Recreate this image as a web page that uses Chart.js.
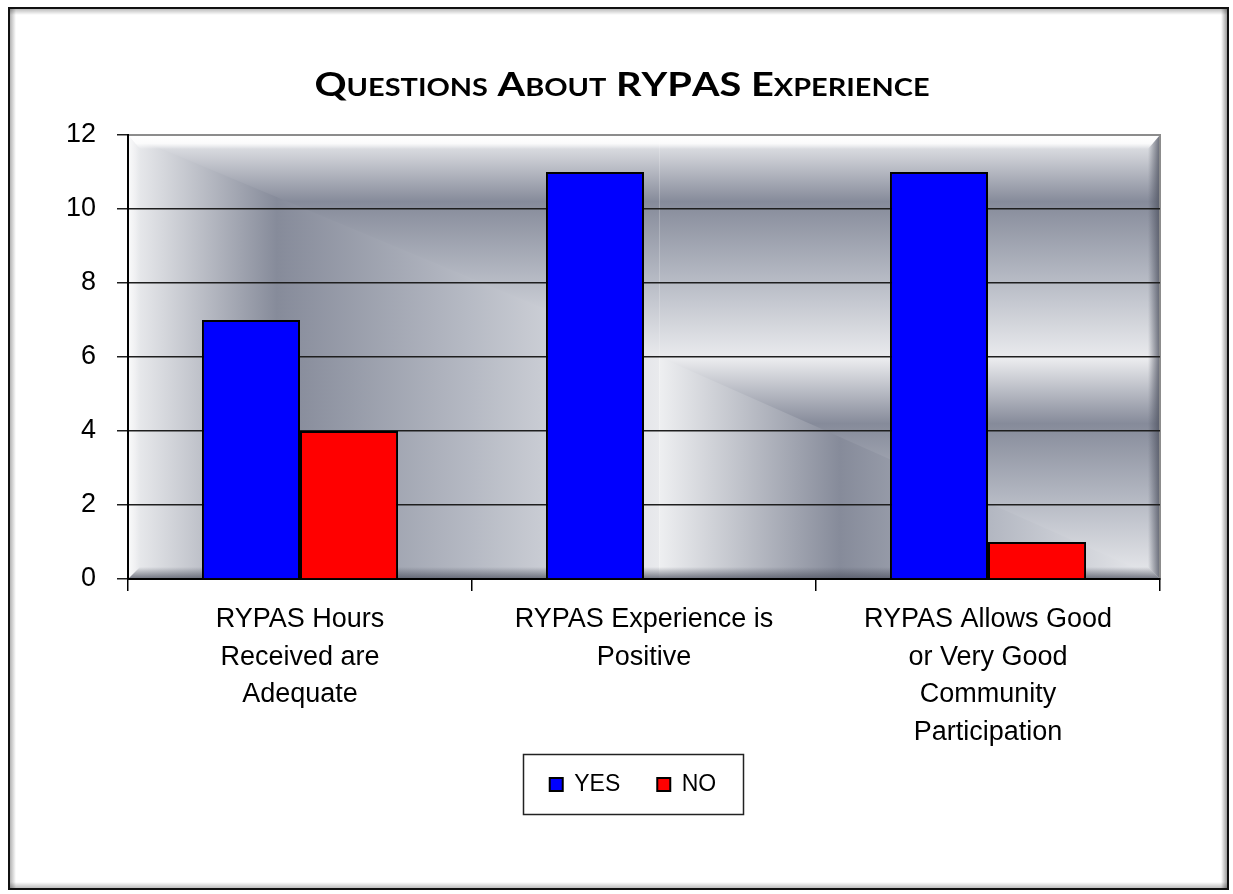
<!DOCTYPE html>
<html>
<head>
<meta charset="utf-8">
<title>Questions About RYPAS Experience</title>
<script src="https://cdn.jsdelivr.net/npm/chart.js@4.4.0/dist/chart.umd.min.js"></script>
<style>
  html, body { margin: 0; padding: 0; background: #fff; }
  #wrap { width: 1233px; height: 894px; }
</style>
</head>
<body>
<div id="wrap"><canvas id="myChart" width="1233" height="894"></canvas></div>
<script>
const titleText = 'Questions About RYPAS Experience';
const categories = [
  ['RYPAS Hours', 'Received are', 'Adequate'],
  ['RYPAS Experience is', 'Positive'],
  ['RYPAS Allows Good', 'or Very Good', 'Community', 'Participation'],
];
const seriesNames = ['YES', 'NO'];
const yesValues = [7, 11, 11];
const noValues = [4, 0, 1];
const yMin = 0;
const yMax = 12;
const yStep = 2;

const FONT = "'Liberation Sans', Arial, sans-serif";

// excel-ish metallic texture, one tile at a time
function tile(ctx, x0, y0, w, h, hStop, vStop, mode) {
  const stops = (g, d) => {
    g.addColorStop(0, '#eeeff1');
    g.addColorStop(d, '#868b9a');
    g.addColorStop((d + 1) / 2, '#b6bac4');
    g.addColorStop(1, '#e9eaed');
  };
  const gh = ctx.createLinearGradient(x0, 0, x0 + w, 0);
  stops(gh, hStop);
  const gv = ctx.createLinearGradient(0, y0, 0, y0 + h);
  stops(gv, vStop);
  if (mode === 'h' || mode === 'v') {
    ctx.fillStyle = mode === 'h' ? gh : gv;
    ctx.fillRect(x0, y0, w, h);
    return;
  }
  // whole tile horizontal, then the upper right half vertical on top
  ctx.fillStyle = gh;
  ctx.fillRect(x0, y0, w, h);
  ctx.beginPath();
  ctx.moveTo(x0, y0);
  ctx.lineTo(x0 + w, y0);
  ctx.lineTo(x0 + w, y0 + h);
  ctx.closePath();
  ctx.fillStyle = gv;
  ctx.fill();
}

function poly(ctx, pts, fill) {
  ctx.beginPath();
  ctx.moveTo(pts[0][0], pts[0][1]);
  for (let i = 1; i < pts.length; i++) ctx.lineTo(pts[i][0], pts[i][1]);
  ctx.closePath();
  ctx.fillStyle = fill;
  ctx.fill();
}

const backdrop = {
  id: 'backdrop',
  afterLayout(chart) {
    // legend sits centred under the plot, a bit higher than chart.js puts it
    const lg = chart.legend;
    lg.left += 53; lg.right += 53;
    lg.top -= 18; lg.bottom -= 18;
  },
  beforeDraw(chart) {
    const ctx = chart.ctx;
    const a = chart.chartArea;
    ctx.save();
    ctx.fillStyle = '#fff';
    ctx.fillRect(0, 0, chart.width, chart.height);

    // outer frame with a soft inner shadow
    const fx = 9, fy = 8, fw = 1219, fh = 881;
    const sh = 7;
    let g = ctx.createLinearGradient(fx, 0, fx + sh, 0);
    g.addColorStop(0, 'rgba(0,0,0,0.35)'); g.addColorStop(1, 'rgba(0,0,0,0)');
    ctx.fillStyle = g; ctx.fillRect(fx, fy, sh, fh);
    g = ctx.createLinearGradient(fx + fw, 0, fx + fw - sh, 0);
    g.addColorStop(0, 'rgba(0,0,0,0.45)'); g.addColorStop(1, 'rgba(0,0,0,0)');
    ctx.fillStyle = g; ctx.fillRect(fx + fw - sh, fy, sh, fh);
    g = ctx.createLinearGradient(0, fy, 0, fy + sh);
    g.addColorStop(0, 'rgba(0,0,0,0.3)'); g.addColorStop(1, 'rgba(0,0,0,0)');
    ctx.fillStyle = g; ctx.fillRect(fx, fy, fw, sh);
    g = ctx.createLinearGradient(0, fy + fh, 0, fy + fh - sh);
    g.addColorStop(0, 'rgba(0,0,0,0.3)'); g.addColorStop(1, 'rgba(0,0,0,0)');
    ctx.fillStyle = g; ctx.fillRect(fx, fy + fh - sh, fw, sh);
    ctx.strokeStyle = '#111';
    ctx.lineWidth = 2;
    ctx.strokeRect(fx, fy, fw, fh);

    // plot area texture
    const L = a.left, R = a.right, T = a.top, B = a.bottom;
    const midX = L + (R - L) * 0.515;
    const midY = (T + B) / 2;
    tile(ctx, L, T, midX - L, midY - T, 0.28, 0.3, 'd');
    tile(ctx, midX, T, R - midX, midY - T, 0.34, 0.3, 'v');
    tile(ctx, L, midY, midX - L, B - midY, 0.3, 0.3, 'h');
    tile(ctx, midX, midY, R - midX, B - midY, 0.36, 0.3, 'd');

    // bevel
    const bw = 12;
    g = ctx.createLinearGradient(0, T, 0, T + bw + 2);
    g.addColorStop(0, 'rgba(255,255,255,1)'); g.addColorStop(0.6, 'rgba(255,255,255,0.85)'); g.addColorStop(1, 'rgba(255,255,255,0)');
    poly(ctx, [[L, T], [R, T], [R - bw, T + bw + 2], [L + bw, T + bw + 2]], g);
    g = ctx.createLinearGradient(L, 0, L + bw, 0);
    g.addColorStop(0, 'rgba(255,255,255,0.7)'); g.addColorStop(1, 'rgba(255,255,255,0)');
    poly(ctx, [[L, T], [L + bw, T + bw + 2], [L + bw, B - bw], [L, B]], g);
    g = ctx.createLinearGradient(R - bw, 0, R, 0);
    g.addColorStop(0, 'rgba(80,84,98,0)'); g.addColorStop(1, 'rgba(80,84,98,0.85)');
    poly(ctx, [[R, T], [R, B], [R - bw, B - bw], [R - bw, T + bw + 2]], g);
    g = ctx.createLinearGradient(0, B - bw, 0, B);
    g.addColorStop(0, 'rgba(80,84,98,0)'); g.addColorStop(1, 'rgba(80,84,98,0.8)');
    poly(ctx, [[L, B], [R, B], [R - bw, B - bw], [L + bw, B - bw]], g);
    ctx.strokeStyle = '#8c8c8c';
    ctx.lineWidth = 2;
    ctx.strokeRect(L, T, R - L, B - T);
    ctx.restore();
  },
};

// title in small caps, drawn letter group by letter group
const smallCapsTitle = {
  id: 'smallCapsTitle',
  afterDraw(chart) {
    const ctx = chart.ctx;
    const big = "bold 33px Lato, 'Open Sans', sans-serif";
    const small = "bold 24px Lato, 'Open Sans', sans-serif";
    const parts = [];
    for (const ch of titleText) {
      const isBig = ch === ch.toUpperCase();
      parts.push({ t: ch.toUpperCase(), f: isBig ? big : small });
    }
    ctx.save();
    let w = 0;
    parts.forEach((p) => { ctx.font = p.f; p.w = ctx.measureText(p.t).width; w += p.w; });
    const sx = 615 / w;
    ctx.translate(622, 96);
    ctx.scale(sx, 1);
    ctx.fillStyle = '#000';
    ctx.textBaseline = 'alphabetic';
    let x = -w / 2;
    parts.forEach((p) => { ctx.font = p.f; ctx.fillText(p.t, x, 0); x += p.w; });
    ctx.restore();
  },
};

// frame round the legend
const legendFrame = {
  id: 'legendFrame',
  afterDraw(chart) {
    const lg = chart.legend;
    if (!lg) return;
    const cx = (lg.left + lg.right) / 2;
    const cy = lg.top + lg.options.labels.padding + 11;
    const ctx = chart.ctx;
    ctx.save();
    ctx.strokeStyle = '#222';
    ctx.lineWidth = 1.5;
    ctx.strokeRect(Math.round(cx - 110) + 0.5, Math.round(cy - 30) + 0.5, 220, 60);
    ctx.restore();
  },
};

const ctx = document.getElementById('myChart').getContext('2d');

const data = {
  labels: categories,
  datasets: [
    {
      label: seriesNames[0],
      data: yesValues,
      backgroundColor: '#0000ff',
      borderColor: '#000',
      borderWidth: 2,
      categoryPercentage: 0.57,
      barPercentage: 1,
    },
    {
      label: seriesNames[1],
      data: noValues,
      backgroundColor: '#ff0000',
      borderColor: '#000',
      borderWidth: 2,
      categoryPercentage: 0.57,
      barPercentage: 1,
    },
  ],
};

const myChart = new Chart(ctx, {
  type: 'bar',
  data: data,
  plugins: [backdrop, smallCapsTitle, legendFrame],
  options: {
    responsive: false,
    animation: false,
    layout: { padding: { left: 0, right: 73, top: 135, bottom: 70 } },
    plugins: {
      title: { display: false },
      tooltip: { enabled: false },
      legend: {
        position: 'bottom',
        labels: {
          boxWidth: 13,
          boxHeight: 13,
          color: '#000',
          font: { family: FONT, size: 23 },
          padding: 37,
        },
      },
    },
    scales: {
      x: {
        offset: true,
        grid: {
          offset: true,
          drawOnChartArea: false,
          drawTicks: true,
          tickLength: 12,
          color: '#000',
          lineWidth: 1.5,
        },
        border: { color: '#000', width: 2 },
        ticks: {
          color: '#000',
          font: { family: FONT, size: 27, lineHeight: 1.39 },
          padding: 10,
          maxRotation: 0,
          autoSkip: false,
        },
        afterFit: (s) => { s.height = 175; },
      },
      y: {
        min: yMin,
        max: yMax,
        ticks: {
          stepSize: yStep,
          color: '#000',
          font: { family: FONT, size: 27 },
          padding: 21,
        },
        grid: {
          color: (c) => (c.tick && c.tick.value === yMax ? '#8c8c8c' : '#1e1e1e'),
          tickColor: '#1e1e1e',
          lineWidth: 1.5,
          tickLength: 11,
        },
        border: { color: '#000', width: 2 },
        afterFit: (s) => { s.width = 128; },
      },
    },
  },
});
</script>
</body>
</html>
